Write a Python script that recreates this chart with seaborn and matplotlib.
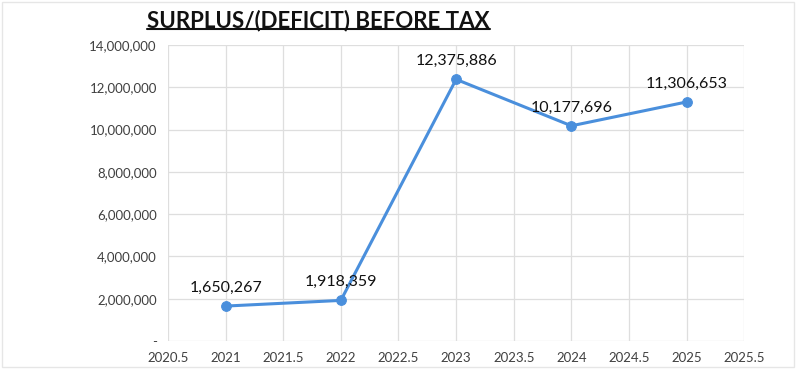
import matplotlib
matplotlib.use("Agg")
import matplotlib.pyplot as plt
import matplotlib.ticker as mticker
import seaborn as sns
import pandas as pd

years = [2021, 2022, 2023, 2024, 2025]
surplus = [1650267, 1918359, 12375886, 10177696, 11306653]
title = "SURPLUS/(DEFICIT) BEFORE TAX"

df = pd.DataFrame({"year": years, "surplus": surplus})

sns.set_theme(style="whitegrid")
plt.rcParams["font.family"] = ["Lato", "DejaVu Sans"]

fig = plt.figure(figsize=(7.96, 3.69), dpi=100)
ax = fig.add_axes([0.211, 0.076, 0.724, 0.802])

line_color = "#4a8fdc"
sns.lineplot(data=df, x="year", y="surplus", ax=ax, color=line_color,
             linewidth=2.2, marker="o", markersize=7,
             markeredgecolor=line_color, markerfacecolor=line_color)

for x, y in zip(years, surplus):
    ax.annotate(f"{y:,}", (x, y), xytext=(0, 8), textcoords="offset points",
                ha="center", va="bottom", fontsize=11.5, color="#111111")

ax.set_xlim(2020.5, 2025.5)
ax.set_ylim(0, 14000000)
ax.xaxis.set_major_locator(mticker.MultipleLocator(0.5))
ax.yaxis.set_major_locator(mticker.MultipleLocator(2000000))
ax.xaxis.set_major_formatter(mticker.FuncFormatter(lambda v, p: f"{v:g}"))
ax.yaxis.set_major_formatter(
    mticker.FuncFormatter(lambda v, p: "-" if v == 0 else f"{int(v):,}"))
ax.tick_params(axis="both", labelsize=9.5, colors="#404040", length=0, pad=8)
ax.set_xlabel("")
ax.set_ylabel("")
ax.grid(True, color="#dedede", linewidth=0.9)
for s in ax.spines.values():
    s.set_visible(False)
ax.set_facecolor("white")

fig.text(0.40, 0.945, title, ha="center", va="center", fontsize=16,
         fontweight="bold", color="#111111")
# underline beneath the heading
t = fig.texts[-1]
fig.canvas.draw()
bb = t.get_window_extent().transformed(fig.transFigure.inverted())
fig.add_artist(plt.Line2D([bb.x0, bb.x1], [bb.y0 + 0.005, bb.y0 + 0.005],
                          transform=fig.transFigure, color="#111111", linewidth=1.5))

fig.add_artist(plt.Rectangle((0.003, 0.005), 0.994, 0.99, transform=fig.transFigure,
                             fill=False, edgecolor="#e6e6e6", linewidth=1))

fig.savefig("out.png", dpi=100, facecolor="white")
